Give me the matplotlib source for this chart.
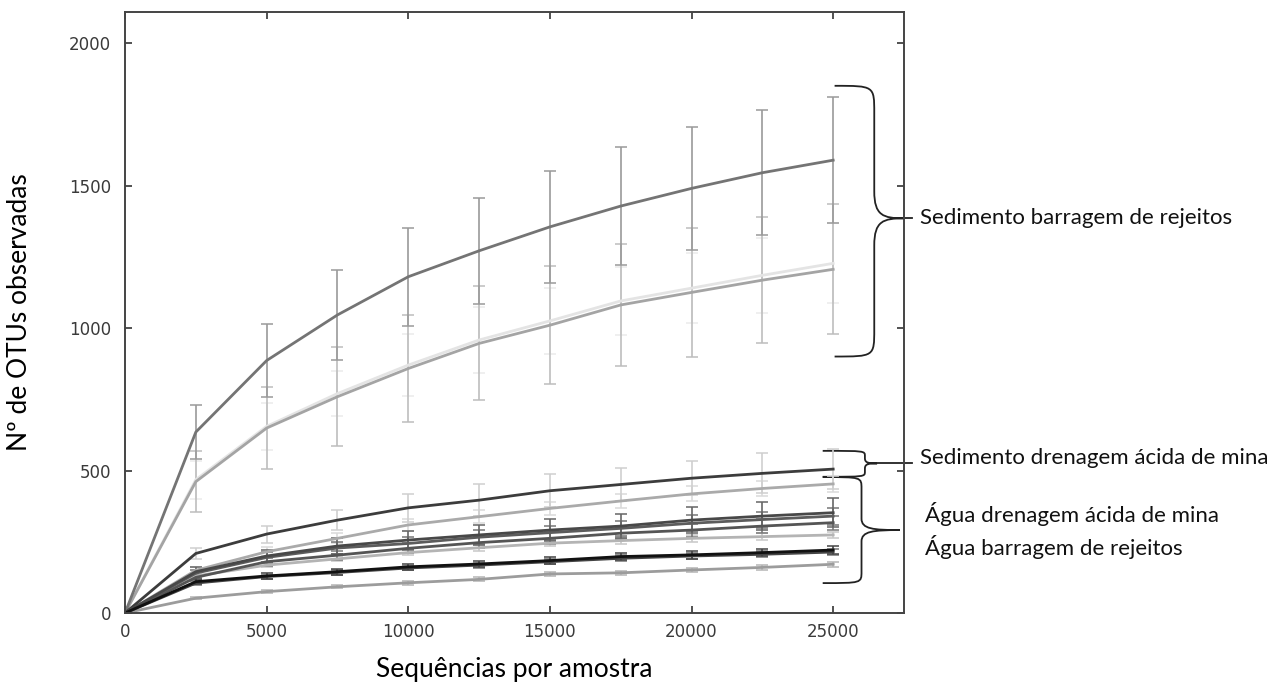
import matplotlib
matplotlib.use("Agg")
import matplotlib.pyplot as plt
from matplotlib.path import Path
from matplotlib.patches import PathPatch

# rarefaction depths
depth = [0, 2500, 5000, 7500, 10000, 12500, 15000, 17500, 20000, 22500, 25000]

# Sedimento barragem de rejeitos
sed_barr_1 = [0, 635, 886, 1046, 1180, 1271, 1355, 1428, 1490, 1545, 1589]
sed_barr_1_sd = [0, 95, 128, 157, 172, 186, 196, 207, 215, 219, 221]
sed_barr_2 = [0, 461, 649, 759, 858, 946, 1010, 1081, 1125, 1168, 1206]
sed_barr_2_sd = [0, 107, 145, 173, 189, 200, 208, 213, 225, 222, 228]
sed_barr_3 = [0, 468, 655, 770, 870, 958, 1025, 1095, 1140, 1185, 1227]
sed_barr_3_sd = [0, 67, 82, 80, 110, 115, 117, 120, 124, 131, 140]

# Sedimento drenagem acida de mina
sed_dam = [0, 209, 277, 326, 369, 396, 429, 451, 473, 490, 505]
sed_dam_sd = [0, 18, 30, 34, 50, 56, 58, 57, 60, 70, 70]

# Agua (drenagem acida / barragem)
agua_1 = [0, 150, 215, 262, 309, 338, 367, 393, 418, 437, 453]
agua_1_sd = [0, 10, 15, 18, 20, 22, 24, 25, 26, 27, 28]
agua_2 = [0, 145, 200, 235, 256, 274, 291, 305, 326, 340, 352]
agua_2_sd = [0, 15, 22, 28, 32, 36, 40, 42, 45, 48, 50]
agua_3 = [0, 140, 195, 228, 244, 266, 282, 297, 315, 328, 340]
agua_3_sd = [0, 12, 18, 20, 22, 24, 25, 26, 28, 28, 30]
agua_4 = [0, 125, 180, 203, 227, 247, 262, 280, 291, 305, 317]
agua_4_sd = [0, 10, 14, 16, 18, 20, 21, 22, 23, 24, 25]
agua_5 = [0, 130, 168, 190, 212, 229, 245, 254, 262, 268, 274]
agua_5_sd = [0, 6, 8, 9, 10, 10, 11, 11, 12, 12, 12]
agua_6 = [0, 110, 130, 145, 162, 172, 184, 198, 204, 212, 221]
agua_6_sd = [0, 8, 9, 10, 10, 11, 12, 12, 13, 13, 14]
agua_7 = [0, 105, 128, 142, 158, 168, 180, 192, 200, 206, 214]
agua_7_sd = [0, 6, 7, 8, 8, 9, 9, 10, 10, 10, 11]
agua_8 = [0, 52, 75, 92, 106, 118, 137, 141, 151, 160, 171]
agua_8_sd = [0, 4, 5, 6, 6, 7, 7, 8, 8, 8, 9]

xticks = [0, 5000, 10000, 15000, 20000, 25000]
yticks = [0, 500, 1000, 1500, 2000]

# (mean, sd, line colour, errorbar colour)
series = [
    (sed_barr_3, sed_barr_3_sd, "#e4e4e4", "#ebebeb"),
    (sed_barr_2, sed_barr_2_sd, "#a4a4a4", "#bdbdbd"),
    (sed_barr_1, sed_barr_1_sd, "#747474", "#9a9a9a"),
    (agua_8, agua_8_sd, "#9c9c9c", "#b5b5b5"),
    (agua_5, agua_5_sd, "#b4b4b4", "#c8c8c8"),
    (agua_1, agua_1_sd, "#aaaaaa", "#dadada"),
    (sed_dam, sed_dam_sd, "#3c3c3c", "#cfcfcf"),
    (agua_4, agua_4_sd, "#555555", "#7a7a7a"),
    (agua_3, agua_3_sd, "#5c5c5c", "#767676"),
    (agua_2, agua_2_sd, "#484848", "#666666"),
    (agua_7, agua_7_sd, "#444444", "#777777"),
    (agua_6, agua_6_sd, "#111111", "#444444"),
]

plt.rcParams.update({
    "font.family": "DejaVu Sans",
    "xtick.direction": "in",
    "ytick.direction": "in",
})

fig = plt.figure(figsize=(12.81, 6.85), dpi=100)
ax = fig.add_axes([0.0976, 0.1051, 0.6081, 0.8778])

for mean, sd, c, ec in series:
    ax.errorbar(depth, mean, yerr=sd, color=c, ecolor=ec, lw=2.0,
                elinewidth=1.2, capsize=4.5, capthick=1.1,
                errorevery=(1, 1))

ax.set_xlim(0, 27500)
ax.set_ylim(0, 2110)
ax.set_xticks(xticks)
ax.set_yticks(yticks)
ax.tick_params(top=True, right=True, length=5, width=1.2, color="#333333",
               labelsize=12, labelcolor="#3a3a3a", pad=7)
ax.tick_params(axis="y", pad=10)
for sp in ax.spines.values():
    sp.set_linewidth(1.4)
    sp.set_color("#444444")

ax.set_xlabel("Sequências por amostra", family="Lato", fontsize=19,
              labelpad=12)
ax.set_ylabel("Nº de OTUs observadas", family="Lato", fontsize=19)
ax.yaxis.set_label_coords(-0.12, 0.5)


def brace(x0, x1, x2, ytop, ymid, ybot, r):
    verts = [
        (x0, ytop),
        (x1, ytop), (x1, ytop), (x1, ytop - r),
        (x1, ymid + r),
        (x1, ymid + r * 0.1), (x1 + (x2 - x1) * 0.3, ymid), (x2, ymid),
        (x1 + (x2 - x1) * 0.3, ymid), (x1, ymid - r * 0.1), (x1, ymid - r),
        (x1, ybot + r),
        (x1, ybot), (x1, ybot), (x0, ybot),
    ]
    codes = ([Path.MOVETO] + [Path.CURVE4] * 3 + [Path.LINETO]
             + [Path.CURVE4] * 6 + [Path.LINETO] + [Path.CURVE4] * 3)
    ax.add_patch(PathPatch(Path(verts, codes), fill=False, lw=1.3,
                           color="#222222", clip_on=False))


brace(25050, 26450, 27500, 1850, 1385, 900, 95)
ax.plot([27500, 27780], [1385, 1385], color="#222222", lw=1.3, clip_on=False)
brace(24630, 26120, 26550, 569, 525, 478, 18)
ax.plot([26550, 27780], [525, 525], color="#222222", lw=1.3, clip_on=False)
brace(24630, 26000, 27355, 477, 291, 105, 40)

txt = dict(family="Lato", fontsize=16, va="center", ha="left",
           color="#111111", clip_on=False)
ax.text(28060, 1386, "Sedimento barragem de rejeitos", **txt)
ax.text(28060, 544, "Sedimento drenagem ácida de mina", **txt)
ax.text(28240, 347, "Água drenagem ácida de mina", **txt)
ax.text(28240, 232, "Água barragem de rejeitos", **txt)

fig.savefig("out.png", dpi=100)
